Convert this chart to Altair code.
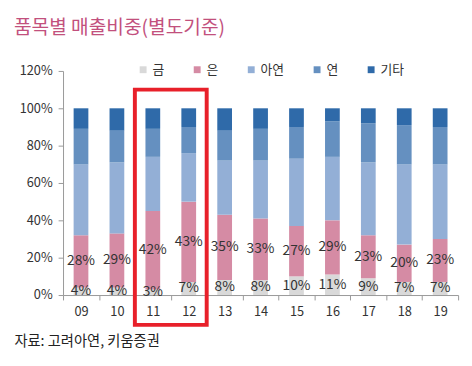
import altair as alt
import pandas as pd

years = ["09", "10", "11", "12", "13", "14", "15", "16", "17", "18", "19"]
metals = ["금", "은", "아연", "연", "기타"]
gold = [4, 4, 3, 7, 8, 8, 10, 11, 9, 7, 7]
silver = [28, 29, 42, 43, 35, 33, 27, 29, 23, 20, 23]
zinc = [38, 38, 29, 26, 29, 31, 36, 34, 39, 43, 40]
lead = [19, 17, 15, 14, 16, 17, 17, 19, 21, 21, 20]
other = [11, 12, 11, 10, 12, 11, 10, 7, 8, 9, 10]
colors = ["#d9d9d9", "#d58ba4", "#93afd6", "#6590c0", "#2f6aa9"]
y_ticks = [0, 20, 40, 60, 80, 100, 120]
highlight_years = ["11", "12"]
highlight_range = [110, -16]

FONT = "Noto Sans CJK KR"

series = [gold, silver, zinc, lead, other]
rows = []
for mi, (m, vals) in enumerate(zip(metals, series)):
    for y, v in zip(years, vals):
        rows.append({"year": y, "metal": m, "value": v, "idx": mi})
df = pd.DataFrame(rows)

lbl_rows = []
for y, g, s in zip(years, gold, silver):
    lbl_rows.append({"year": y, "mid": g / 2, "label": f"{g}%"})
    lbl_rows.append({"year": y, "mid": g + s / 2, "label": f"{s}%"})
lbl = pd.DataFrame(lbl_rows)

hl = pd.DataFrame({"year": [highlight_years[0]], "year_end": [highlight_years[1]],
                   "top": [highlight_range[0]], "bot": [highlight_range[1]]})

xscale = alt.Scale(domain=years, paddingInner=0, paddingOuter=0)
yscale = alt.Scale(domain=[0, 120])

x_axis = alt.Axis(title="자료: 고려아연, 키움증권", titleAnchor="start", titleAlign="left",
                  titleX=-50, titleY=47, titleBaseline="middle", titleFontSize=14.5,
                  titleFontWeight="normal", titleColor="#222", titleFont=FONT,
                  labelAngle=0, labelFontSize=13, labelColor="#333", labelFont=FONT,
                  labelPadding=6, tickBand="extent", tickSize=5, tickColor="#999",
                  domainColor="#999")
y_axis = alt.Axis(title=None, values=y_ticks, labelExpr="datum.value + '%'", grid=False,
                  labelFontSize=13, labelOverlap=False, labelColor="#333", labelFont=FONT,
                  labelPadding=6, tickSize=5, tickColor="#999", domainColor="#999")

bars = alt.Chart(df).mark_bar(size=15).encode(
    x=alt.X("year:N", scale=xscale, axis=x_axis),
    y=alt.Y("value:Q", stack="zero", scale=yscale, axis=y_axis),
    color=alt.Color("metal:N", scale=alt.Scale(domain=metals, range=colors),
                    legend=alt.Legend(title=None, orient="none", legendX=75, legendY=-8,
                                      direction="horizontal", symbolType="square",
                                      symbolSize=49, symbolStrokeWidth=0, labelFontSize=13,
                                      labelFont=FONT, labelColor="#333", columnPadding=27,
                                      labelOffset=3)),
    order=alt.Order("idx:Q"),
)

texts = alt.Chart(lbl).mark_text(fontSize=14, color="#333", font=FONT).encode(
    x=alt.X("year:N", scale=xscale, axis=x_axis),
    y=alt.Y("mid:Q", scale=yscale, axis=y_axis),
    text="label:N",
)

rect = alt.Chart(hl).mark_rect(fillOpacity=0, stroke="#e8202a", strokeWidth=4).encode(
    x=alt.X("year:N", scale=xscale, bandPosition=0, axis=x_axis),
    x2=alt.X2("year_end", bandPosition=1),
    y=alt.Y("top:Q", scale=yscale, axis=y_axis),
    y2="bot",
)

chart = alt.layer(bars, texts, rect).properties(
    width=402, height=228,
    autosize=alt.AutoSizeParams(type="none"),
    padding={"left": 56, "top": 61, "right": 6, "bottom": 60},
    title=alt.TitleParams("품목별 매출비중(별도기준)", anchor="start", fontSize=19.5,
                          color="#c2507d", font=FONT, fontWeight="normal", frame="group",
                          dx=-50, offset=25),
).configure_view(stroke=None)

chart.save("out.html", embed_options={"renderer": "svg", "actions": False})
